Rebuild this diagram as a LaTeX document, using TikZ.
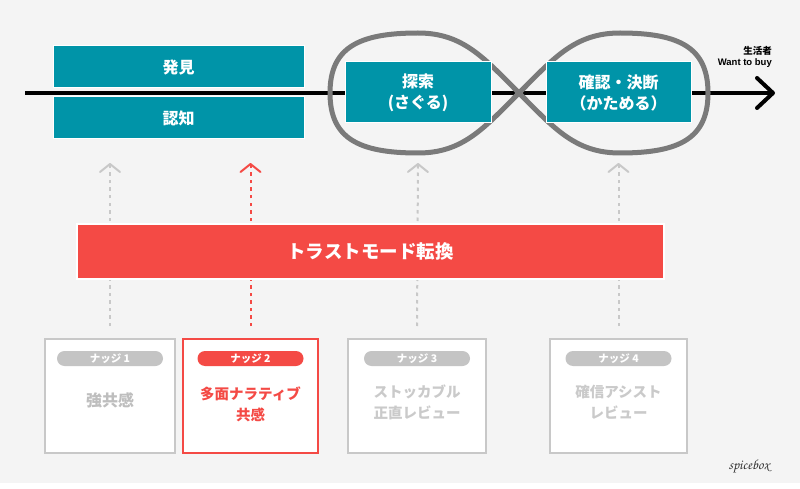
\documentclass[tikz,border=0pt]{standalone}
\usepackage{fontspec}
\setmainfont{Noto Sans CJK JP}
\newfontfamily\lib{Liberation Sans}
\usetikzlibrary{calc,arrows.meta}
\definecolor{bgc}{RGB}{244,244,244}
\definecolor{tealc}{RGB}{0,148,168}
\definecolor{redc}{RGB}{244,74,69}
\definecolor{loopc}{RGB}{122,122,122}
\definecolor{bordc}{RGB}{200,200,200}
\definecolor{pillc}{RGB}{196,196,196}
\definecolor{txtg}{RGB}{190,190,190}
\definecolor{txtl}{RGB}{202,202,202}
\definecolor{arrg}{RGB}{200,200,200}
\begin{document}
\begin{tikzpicture}[x=1pt,y=-1pt,
  tealbox/.style={fill=tealc, draw=white, line width=1pt, text=white, align=center, inner sep=0pt,
    font=\bfseries\fontsize{16}{21}\selectfont},
  nudgebox/.style={fill=white, draw=bordc, line width=2pt, minimum height=114pt, inner sep=0pt},
  pillbox/.style={rounded corners=7.5pt, minimum width=106pt, minimum height=15pt, inner sep=0pt, text=white,
    font=\bfseries\fontsize{10.5}{11}\selectfont},
  nudgetext/.style={align=center, font=\bfseries\fontsize{14.5}{21}\selectfont, inner sep=0pt},
  dotarrow/.style={line width=2pt, dash pattern=on 3.5pt off 4pt,
    -{Straight Barb[length=8pt,width=20pt,line width=2pt,round]}}
]
\useasboundingbox (0,0) rectangle (800,489);
\fill[white] (0,0) rectangle (800,489);
\fill[bgc] (0,0) rectangle (800,483);

% main timeline
\coordinate (lineStart) at (25,93);
\coordinate (lineEnd) at (773,93);
\draw[line width=4pt] (lineStart) -- (lineEnd);
\draw[line width=4pt, line cap=round, line join=round]
  ($(lineEnd)+(-16,-15)$) -- (lineEnd) -- ($(lineEnd)+(-16,15)$);

% infinity loop
\draw[loopc, line width=5pt]
  (519,93) .. controls (484,58) and (463,33) .. (418,33)
  .. controls (358,33) and (330,48) .. (330,93)
  .. controls (330,138) and (358,153) .. (418,153)
  .. controls (463,153) and (484,128) .. (519,93)
  .. controls (554,58) and (575,33) .. (620,33)
  .. controls (680,33) and (708,48) .. (708,93)
  .. controls (708,138) and (680,153) .. (620,153)
  .. controls (575,153) and (554,128) .. (519,93) -- cycle;

% teal stage boxes
\node[tealbox, minimum width=251pt, minimum height=42pt] (hakken) at (178.5,67) {発見};
\node[tealbox, minimum width=251pt, minimum height=42pt] (ninchi) at (178.5,118) {認知};
\node[tealbox, minimum width=146pt, minimum height=61pt] (tansaku) at (418,92.5) {探索\\(さぐる)};
\node[tealbox, minimum width=145pt, minimum height=61pt] (kakunin) at (618.5,92.5) {確認・決断\\（かためる）};

% consumer label
\node[anchor=east, align=right, inner sep=0pt, font=\bfseries\fontsize{9.5}{11.5}\selectfont] (label) at (772,57)
  {生活者\\{\lib\bfseries Want to buy}};

% nudge boxes
\node[nudgebox, minimum width=130pt] (n1) at (110,396) {};
\node[nudgebox, minimum width=135pt, draw=redc] (n2) at (250.5,396) {};
\node[nudgebox, minimum width=138pt] (n3) at (417,396) {};
\node[nudgebox, minimum width=137pt] (n4) at (618.5,396) {};

\node[pillbox, fill=pillc] (p1) at ($(n1.north)+(0,20.5)$) {ナッジ 1};
\node[pillbox, fill=redc] (p2) at ($(n2.north)+(0,20.5)$) {ナッジ 2};
\node[pillbox, fill=pillc] (p3) at ($(n3.north)+(0,20.5)$) {ナッジ 3};
\node[pillbox, fill=pillc] (p4) at ($(n4.north)+(0,20.5)$) {ナッジ 4};

\node[nudgetext, text=txtg, font=\bfseries\fontsize{16}{21}\selectfont] (t1) at (110,400) {強共感};
\node[nudgetext, text=redc] (t2) at (250.5,404.5) {多面ナラティブ\\共感};
\node[nudgetext, text=txtl] (t3) at (417,402.5) {ストッカブル\\正直レビュー};
\node[nudgetext, text=txtl] (t4) at (618.5,402.5) {確信アシスト\\レビュー};

% dotted arrows
\coordinate (a1) at (110,163);
\coordinate (a2) at (250.5,163);
\coordinate (a3) at (418,163);
\coordinate (a4) at (618.5,163);
\draw[dotarrow, arrg] ($(n1.north)+(0,-12)$) -- (a1);
\draw[dotarrow, redc] ($(n2.north)+(0,-12)$) -- (a2);
\draw[dotarrow, arrg] ($(n3.north)+(0,-12)$) -- (a3);
\draw[dotarrow, arrg] ($(n4.north)+(0,-12)$) -- (a4);

% trust mode bar
\node[fill=redc, draw=white, line width=1.5pt, minimum width=587pt, minimum height=55pt, inner sep=0pt,
  text=white, font=\bfseries\fontsize{18.5}{20}\selectfont] (trust) at (370.5,251.5) {トラストモード転換};

% logo
\node[inner sep=0pt, font=\usefont{OT1}{pzc}{mb}{it}\fontsize{14}{14}\selectfont, text=black!80] (logo) at (749,467) {spicebox};
\end{tikzpicture}
\end{document}
